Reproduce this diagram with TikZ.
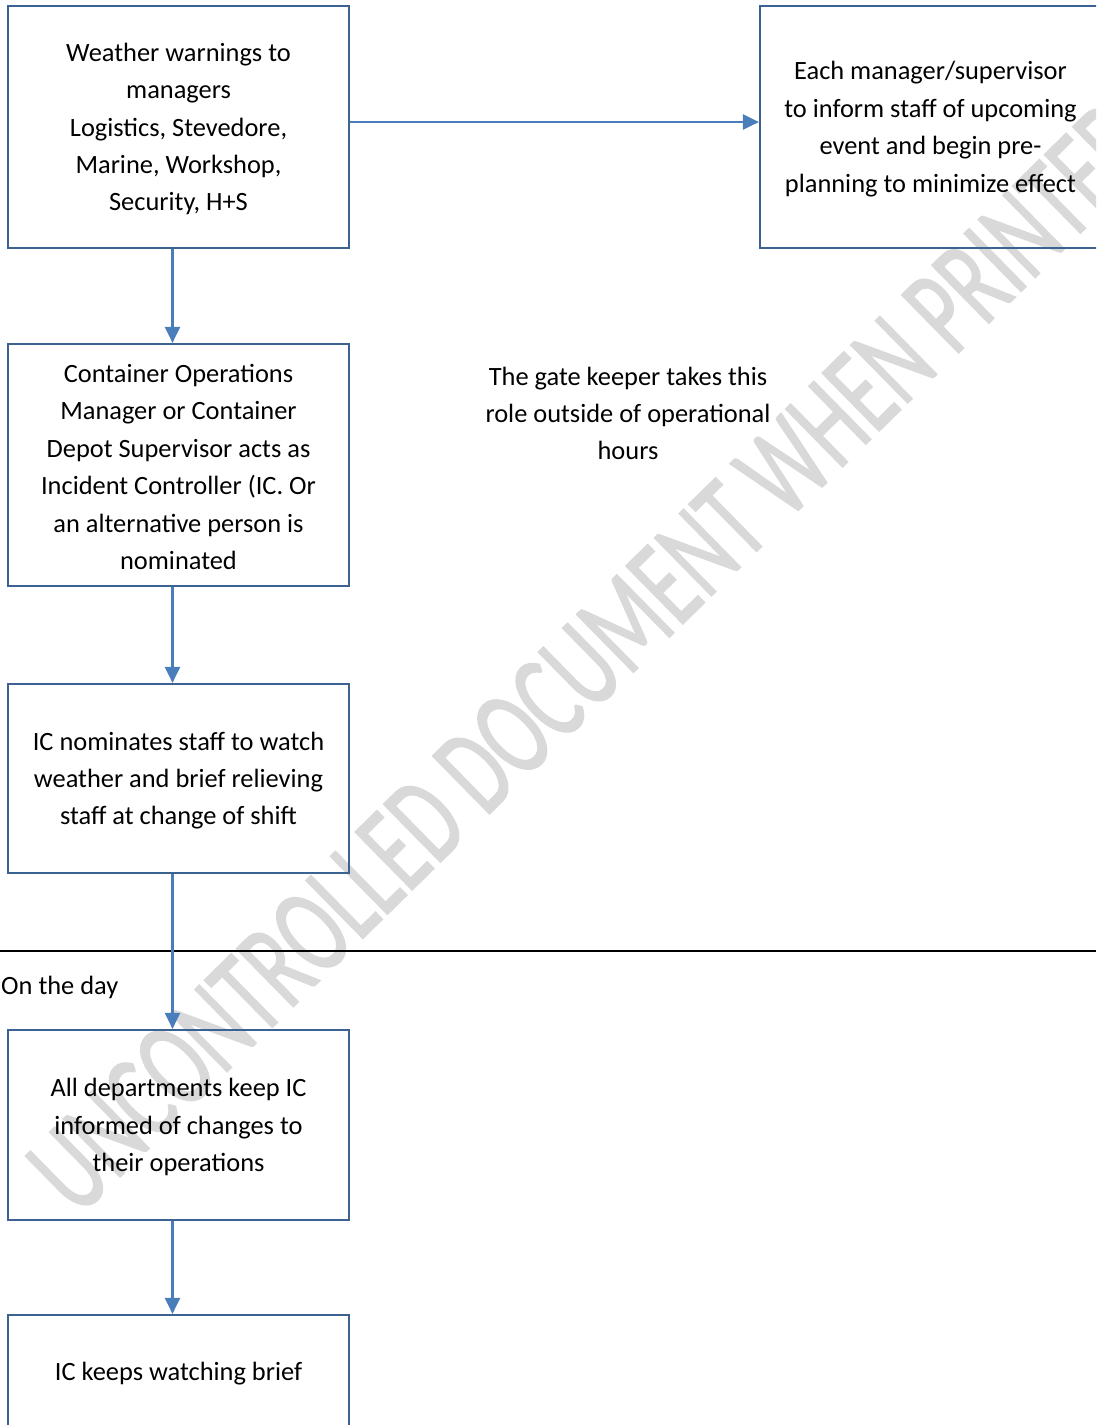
\documentclass[tikz,border=0pt]{standalone}
\usepackage{fontspec}
\setmainfont{Carlito}
\newfontfamily\wmfont[FakeBold=1.5]{Carlito}
\usetikzlibrary{arrows.meta}
\definecolor{boxblue}{RGB}{60,98,145}
\definecolor{connblue}{RGB}{74,126,187}
\definecolor{wmgray}{RGB}{217,217,217}
\tikzset{
 flowbox/.style={draw=boxblue, line width=2.2pt, minimum width=341pt, inner sep=0pt},
 boxtext/.style={align=center, inner sep=0pt, font=\fontsize{26.4}{37.4}\selectfont},
 conn/.style={draw=connblue, line width=2.3pt, -{Triangle[length=16pt,width=15pt]}},
 note/.style={align=center, inner sep=0pt, font=\fontsize{26.4}{37.4}\selectfont},
 sepline/.style={draw=black, line width=2.5pt},
}
\begin{document}
\begin{tikzpicture}[x=1pt,y=-1pt]
\useasboundingbox (0,0) rectangle (1096,1425);
\clip (0,0) rectangle (1096,1425);
% watermark
\node[rotate=44.5, anchor=base west, inner sep=0pt, text=wmgray] (wm) at (78,1218)
  {\scalebox{0.65}[1]{\wmfont\fontsize{126}{126}\selectfont UNCONTROLLED DOCUMENT WHEN PRINTED}};
% separator
\coordinate (sepL) at (0,951);
\coordinate (sepR) at (1096,951);
\draw[sepline] (sepL) -- (sepR);
% boxes
\node[flowbox, minimum height=242pt] (warn) at (178.5,127) {};
\node[boxtext] (warnT) at ([yshift=-2pt]warn.center) {Weather warnings to\\managers\\Logistics, Stevedore,\\Marine, Workshop,\\Security, H+S};
\node[flowbox, minimum height=242pt] (inform) at (930.5,127) {};
\node[boxtext] (informT) at ([yshift=-2pt]inform.center) {Each manager/supervisor\\to inform staff of upcoming\\event and begin pre-\\planning to minimize effect};
\node[flowbox, minimum height=242pt] (ic) at (178.5,465) {};
\node[boxtext] (icT) at ([yshift=-2pt]ic.center) {Container Operations\\Manager or Container\\Depot Supervisor acts as\\Incident Controller (IC. Or\\an alternative person is\\nominated};
\node[flowbox, minimum height=189pt] (watch) at (178.5,778.5) {};
\node[boxtext] (watchT) at ([yshift=-2pt]watch.center) {IC nominates staff to watch\\weather and brief relieving\\staff at change of shift};
\node[flowbox, minimum height=190pt] (keep) at (178.5,1125) {};
\node[boxtext] (keepT) at ([yshift=-2pt]keep.center) {All departments keep IC\\informed of changes to\\their operations};
\node[flowbox, minimum height=112pt] (brief) at (178.5,1371) {};
\node[boxtext] (briefT) at ([yshift=-3pt]brief.center) {IC keeps watching brief};
% free texts
\node[note] (gate) at (628,413.5) {The gate keeper takes this\\role outside of operational\\hours};
\node[note, anchor=base west] (day) at (1,994) {On the day};
% connectors
\draw[conn] ([yshift=5pt]warn.east) -- ([yshift=5pt]inform.west);
\draw[conn] ([xshift=-6pt]warn.south) -- ([xshift=-6pt]ic.north);
\draw[conn] ([xshift=-6pt]ic.south) -- ([xshift=-6pt]watch.north);
\draw[conn] ([xshift=-6pt]watch.south) -- ([xshift=-6pt]keep.north);
\draw[conn] ([xshift=-6pt]keep.south) -- ([xshift=-6pt]brief.north);
\end{tikzpicture}
\end{document}
